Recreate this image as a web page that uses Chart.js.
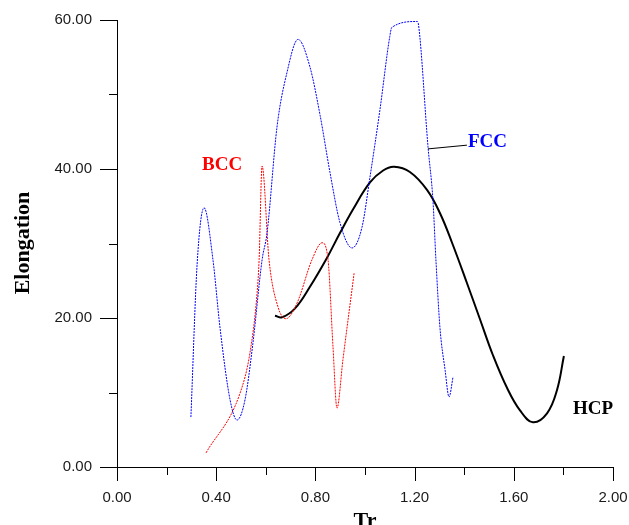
<!DOCTYPE html>
<html>
<head>
<meta charset="utf-8">
<script src="https://cdn.jsdelivr.net/npm/chart.js@4/dist/chart.umd.min.js"></script>
<style>
  body { margin: 0; background: #fff; }
  canvas { display: block; }
</style>
</head>
<body>
<canvas id="chart" width="629" height="525"></canvas>
<script>
// FCC (blue dotted)
const fccX = [0.298, 0.323, 0.351, 0.387, 0.415, 0.456, 0.484, 0.516, 0.548, 0.585, 0.605, 0.645, 0.685, 0.730, 0.778, 0.819, 0.859, 0.899, 0.948, 0.988, 1.020, 1.060, 1.100, 1.108, 1.210, 1.216, 1.254, 1.274, 1.286, 1.302, 1.323, 1.339, 1.355];
const fccY = [6.7, 27.2, 34.8, 27.8, 18.8, 9.0, 6.3, 9.0, 16.6, 27.8, 31.4, 45.6, 52.9, 57.4, 53.7, 47.2, 39.5, 32.8, 29.4, 32.2, 38.9, 47.9, 57.8, 59.0, 59.8, 59.3, 43.0, 35.8, 27.8, 18.8, 13.0, 9.4, 12.1];

// BCC (red dotted)
const bccX = [0.359, 0.496, 0.536, 0.565, 0.573, 0.585, 0.613, 0.649, 0.681, 0.726, 0.786, 0.827, 0.851, 0.871, 0.887, 0.911, 0.956];
const bccY = [1.9, 9.9, 15.3, 23.4, 27.8, 40.4, 27.8, 21.5, 19.9, 22.0, 27.8, 30.1, 27.8, 16.1, 7.9, 14.4, 26.0];

// HCP (black solid)
const hcpX = [0.637, 0.665, 0.718, 0.778, 0.847, 0.899, 0.952, 1.020, 1.073, 1.117, 1.181, 1.250, 1.302, 1.351, 1.411, 1.464, 1.516, 1.573, 1.625, 1.677, 1.734, 1.774, 1.802];
const hcpY = [20.3, 20.1, 21.3, 24.2, 28.1, 31.4, 34.6, 38.2, 39.8, 40.3, 39.6, 37.2, 34.1, 30.1, 24.7, 19.8, 15.0, 10.6, 7.6, 6.0, 7.2, 10.3, 14.9];

const xMajor = [0, 0.4, 0.8, 1.2, 1.6, 2.0];
const xMinor = [0.2, 0.6, 1.0, 1.4, 1.8];
const yMajor = [0, 20, 40, 60];
const yMinor = [10, 30, 50];

function pts(xs, ys) {
    return xs.map((x, i) => ({ x: x, y: ys[i] }));
}

const tickMarks = {
    id: 'tickMarks',
    afterDraw(chart) {
        const c = chart.ctx;
        const xs = chart.scales.x;
        const ys = chart.scales.y;
        const bottom = ys.getPixelForValue(0);
        const left = xs.getPixelForValue(0);
        c.save();
        c.strokeStyle = '#000';
        c.lineWidth = 1;
        c.beginPath();
        xMajor.forEach(v => { const p = Math.round(xs.getPixelForValue(v)) + 0.5; c.moveTo(p, bottom); c.lineTo(p, bottom + 14); });
        xMinor.forEach(v => { const p = Math.round(xs.getPixelForValue(v)) + 0.5; c.moveTo(p, bottom); c.lineTo(p, bottom + 8); });
        yMajor.forEach(v => { const p = Math.round(ys.getPixelForValue(v)) + 0.5; c.moveTo(left - 17, p); c.lineTo(left, p); });
        yMinor.forEach(v => { const p = Math.round(ys.getPixelForValue(v)) + 0.5; c.moveTo(left - 8, p); c.lineTo(left, p); });
        c.stroke();

        // leader line to FCC label
        c.beginPath();
        c.moveTo(xs.getPixelForValue(1.254), ys.getPixelForValue(42.7));
        c.lineTo(xs.getPixelForValue(1.411), ys.getPixelForValue(43.2));
        c.stroke();

        // curve labels
        c.font = 'bold 19px "Liberation Serif"';
        c.textBaseline = 'alphabetic';
        c.textAlign = 'left';
        c.fillStyle = '#ff0000';
        c.fillText('BCC', 202, 170);
        c.fillStyle = '#0000ff';
        c.fillText('FCC', 468, 147);
        c.fillStyle = '#000';
        c.fillText('HCP', 573, 414);

        // axis titles
        c.font = 'bold 22px "Liberation Serif"';
        c.textAlign = 'center';
        c.fillText('Tr', 365, 527);
        c.translate(29, 243);
        c.rotate(-Math.PI / 2);
        c.fillText('Elongation', 0, 0);
        c.restore();
    }
};

const ctx = document.getElementById('chart').getContext('2d');

const data = {
    datasets: [
        {
            label: 'FCC',
            data: pts(fccX, fccY),
            borderColor: '#0000ff',
            borderWidth: 1,
            borderDash: [2, 1],
            pointRadius: 0,
            cubicInterpolationMode: 'monotone',
        },
        {
            label: 'BCC',
            data: pts(bccX, bccY),
            borderColor: '#ff0000',
            borderWidth: 1,
            borderDash: [2, 1],
            pointRadius: 0,
            cubicInterpolationMode: 'monotone',
        },
        {
            label: 'HCP',
            data: pts(hcpX, hcpY),
            borderColor: '#000000',
            borderWidth: 2,
            pointRadius: 0,
            tension: 0.4,
        },
    ],
};

const config = {
    type: 'line',
    data: data,
    options: {
        responsive: false,
        animation: false,
        layout: { padding: { left: 0, top: 20, right: 16, bottom: 0 } },
        plugins: { legend: { display: false }, tooltip: { enabled: false } },
        scales: {
            x: {
                type: 'linear',
                min: 0,
                max: 2,
                grid: { display: false, drawTicks: false },
                border: { display: true, color: '#000', width: 1 },
                ticks: {
                    stepSize: 0.4,
                    padding: 22,
                    maxRotation: 0,
                    color: '#1a1a1a',
                    font: { family: '"Liberation Sans"', size: 15 },
                    callback: v => v.toFixed(2),
                },
                afterFit: s => { s.height = 58; s.paddingLeft = 0; s.paddingRight = 0; },
            },
            y: {
                min: 0,
                max: 60,
                grid: { display: false, drawTicks: false },
                border: { display: true, color: '#000', width: 1 },
                ticks: {
                    stepSize: 20,
                    padding: 25,
                    color: '#1a1a1a',
                    font: { family: '"Liberation Sans"', size: 15 },
                    callback: v => v.toFixed(2),
                },
                afterFit: s => { s.width = 117; s.paddingTop = 0; s.paddingBottom = 0; },
            },
        },
    },
    plugins: [tickMarks],
};

const chart = new Chart(ctx, config);
</script>
</body>
</html>
